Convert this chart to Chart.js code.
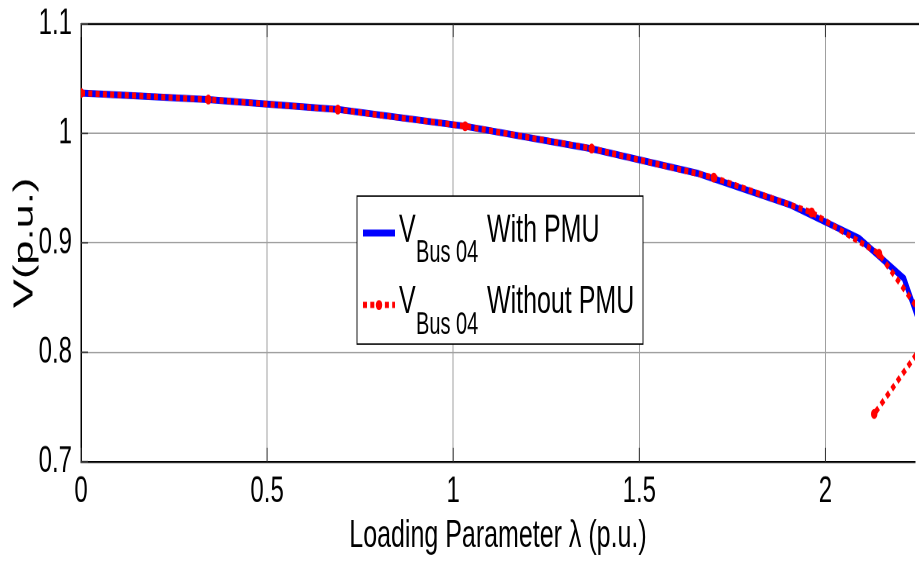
<!DOCTYPE html>
<html><head><meta charset="utf-8">
<script src="https://cdn.jsdelivr.net/npm/chart.js@4.4.1/dist/chart.umd.min.js"></script>
<style>
html,body{margin:0;padding:0;background:#fff;overflow:hidden;width:919px;height:561px}
#wrap{position:absolute;left:0;top:0;width:919px;height:362px;transform:scale(1,1.5497);transform-origin:0 0}
</style></head><body>
<div id="wrap"><canvas id="c" width="919" height="362"></canvas></div>
<script>
// ---- data ----
const withPmuLambda = [0, 0.342, 0.69, 1.032, 1.372, 1.655, 1.904, 2.091, 2.211, 2.26];
const withPmuV      = [1.037, 1.031, 1.022, 1.0066, 0.986, 0.9637, 0.935, 0.904, 0.8675, 0.82];
const withoutPmuLambda = [0, 0.342, 0.69, 1.032, 1.372, 1.70, 1.963, 2.144, 2.29, 2.131];
const withoutPmuV      = [1.037, 1.031, 1.0218, 1.0066, 0.9862, 0.9597, 0.9278, 0.890, 0.82, 0.7436];
const xTicks = [0, 0.5, 1, 1.5, 2];
const xTickLabels = ['0', '0.5', '1', '1.5', '2'];
const yTicks = [0.7, 0.8, 0.9, 1.0, 1.1];
const yTickLabels = ['0.7', '0.8', '0.9', '1', '1.1'];
const legendMain = 'V';
const legendSub = 'Bus 04';
const seriesNames = ['With PMU', 'Without PMU'];
const xTitle = 'Loading Parameter \u03bb (p.u.)';
const yTitle = 'V(p.u.)';

const FONT = "'Liberation Sans', Arial, sans-serif";

const decor = {
  id: 'decor',
  afterDatasetsDraw(chart) {
    const ctx = chart.ctx, a = chart.chartArea, xs = chart.scales.x, ys = chart.scales.y;
    ctx.save();
    ctx.strokeStyle = '#000';
    ctx.lineWidth = 1.2;
    ctx.beginPath(); ctx.moveTo(a.left, a.top); ctx.lineTo(chart.width, a.top); ctx.stroke();
    ctx.lineWidth = 1;
    ctx.strokeStyle = '#333';
    xTicks.forEach(v => {
      const px = xs.getPixelForValue(v);
      ctx.beginPath(); ctx.moveTo(px, a.bottom); ctx.lineTo(px, a.bottom - 9); ctx.stroke();
      ctx.beginPath(); ctx.moveTo(px, a.top); ctx.lineTo(px, a.top + 8.5); ctx.stroke();
    });
    yTicks.forEach(v => {
      const py = ys.getPixelForValue(v);
      ctx.beginPath(); ctx.moveTo(a.left, py); ctx.lineTo(a.left + 7, py); ctx.stroke();
    });
    ctx.restore();
  },
  afterDraw(chart) {
    const ctx = chart.ctx;
    ctx.save();
    const bx = 357, by = 126.5, bw = 286, bh = 95.5;
    ctx.fillStyle = '#fff';
    ctx.fillRect(bx, by, bw, bh);
    ctx.strokeStyle = '#000';
    ctx.lineWidth = 0.9;
    ctx.strokeRect(bx, by, bw, bh);
    const ds = chart.data.datasets;
    const rows = [{ly: 150.4, base: 156.2, sub: 169.1}, {ly: 196.8, base: 202.2, sub: 215.5}];
    rows.forEach((r, i) => {
      const d = ds[i];
      ctx.save();
      ctx.strokeStyle = d.borderColor;
      ctx.lineWidth = d.borderWidth;
      ctx.setLineDash(d.borderDash || []);
      ctx.beginPath(); ctx.moveTo(363, r.ly); ctx.lineTo(395, r.ly); ctx.stroke();
      ctx.setLineDash([]);
      if (d.pointRadius > 0) {
        ctx.fillStyle = d.pointBackgroundColor;
        ctx.beginPath(); ctx.arc(379, r.ly, d.pointRadius, 0, Math.PI * 2); ctx.fill();
      }
      ctx.restore();
      ctx.fillStyle = '#000';
      ctx.textBaseline = 'alphabetic';
      ctx.textAlign = 'left';
      ctx.font = '25px ' + FONT;
      ctx.fillText(legendMain, 399, r.base);
      ctx.font = '20px ' + FONT;
      ctx.fillText(legendSub, 416, r.sub);
      ctx.font = '25px ' + FONT;
      ctx.fillText(seriesNames[i], 487, r.base);
    });
    ctx.restore();
  }
};

new Chart(document.getElementById('c'), {
  type: 'line',
  data: {
    datasets: [
      {
        label: seriesNames[0],
        data: withPmuLambda.map((x, i) => ({x: x, y: withPmuV[i]})),
        borderColor: '#0000ff', borderWidth: 4.5, pointRadius: 0, tension: 0, order: 2
      },
      {
        label: seriesNames[1],
        data: withoutPmuLambda.map((x, i) => ({x: x, y: withoutPmuV[i]})),
        borderColor: '#ff0000', borderWidth: 4, borderDash: [4, 3.3], borderCapStyle: 'butt',
        pointRadius: 3.2, pointBackgroundColor: '#ff0000', pointBorderWidth: 0, tension: 0, order: 1
      }
    ]
  },
  options: {
    responsive: false, animation: false, devicePixelRatio: 2,
    layout: {padding: {top: 15.5, right: 0, left: 0, bottom: 0}},
    plugins: {legend: {display: false}, tooltip: {enabled: false}},
    scales: {
      x: {
        type: 'linear', min: 0, max: 2.2406,
        afterBuildTicks: s => { s.ticks = xTicks.map(v => ({value: v})); },
        afterFit: s => { s.height = 64.1; s.paddingLeft = 0; s.paddingRight = 0; },
        grid: {color: '#a0a0a0', lineWidth: 1, drawTicks: false},
        border: {display: true, color: '#000', width: 1.2},
        ticks: {padding: 5, color: '#000', maxRotation: 0, font: {family: FONT, size: 24},
                callback: (v, i) => xTickLabels[i]},
        title: {display: true, text: xTitle, color: '#000', font: {family: FONT, size: 25},
                padding: {top: 0, bottom: 1}}
      },
      y: {
        type: 'linear', min: 0.7, max: 1.1,
        afterBuildTicks: s => { s.ticks = yTicks.map(v => ({value: v})); },
        afterFit: s => { s.width = 81; s.paddingTop = 0; s.paddingBottom = 0; },
        grid: {color: '#a0a0a0', lineWidth: 1, drawTicks: false},
        border: {display: true, color: '#000', width: 1.5},
        ticks: {padding: 9, color: '#000', font: {family: FONT, size: 24},
                callback: (v, i) => yTickLabels[i]},
        title: {display: true, text: yTitle, color: '#000',
                font: {family: FONT, size: 28},
                padding: {top: 8, bottom: 0}}
      }
    }
  },
  plugins: [decor]
});
</script>
</body></html>
